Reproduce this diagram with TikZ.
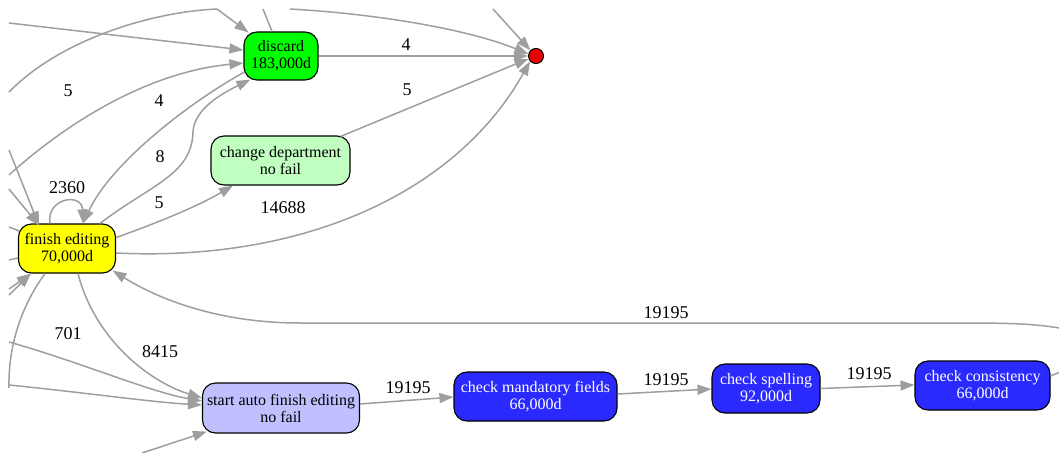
\documentclass[tikz,border=0pt]{standalone}
\usepackage{fontspec}
\setmainfont{Liberation Serif}
\usetikzlibrary{arrows.meta}
\definecolor{edgegray}{RGB}{158,158,158}
\definecolor{dgreen}{RGB}{0,255,0}
\definecolor{lgreen}{RGB}{192,255,192}
\definecolor{lblue}{RGB}{192,192,255}
\definecolor{dblue}{RGB}{42,42,255}
\definecolor{dred}{RGB}{232,0,0}
\definecolor{yel}{RGB}{255,255,0}
\begin{document}
\begin{tikzpicture}[x=1pt,y=-1pt,
  box/.style={draw=black, line width=1.1pt, rounded corners=13pt, align=center,
    inner sep=0pt, minimum height=49pt, font=\fontsize{16}{17}\selectfont},
  bluebox/.style={box, fill=dblue, text=white},
  edge/.style={draw=edgegray, line width=1.5pt, -{Triangle[length=14pt,width=10pt,fill=edgegray]}},
  plain/.style={draw=edgegray, line width=1.5pt},
  lbl/.style={font=\fontsize{18}{18}\selectfont, inner sep=0pt}]
\useasboundingbox (0,0) rectangle (1059,452);

% nodes
\node[box, fill=dgreen, minimum width=74pt, minimum height=48pt] (discard) at (281,56) {discard\\183,000d};
\node[circle, draw=black, fill=dred, line width=1pt, minimum size=15pt, inner sep=0pt] (end) at (536,56) {};
\node[box, fill=lgreen, minimum width=139pt] (chg) at (280.5,160.5) {change department\\no fail};
\node[box, fill=yel, minimum width=97pt] (fe) at (67,248.5) {finish editing\\70,000d};
\node[box, fill=lblue, minimum width=157pt, minimum height=50pt] (sa) at (281,408) {start auto finish editing\\no fail};
\node[bluebox, minimum width=163pt] (cm) at (535.5,396.5) {check mandatory fields\\66,000d};
\node[bluebox, minimum width=108pt] (cs) at (766,388.5) {check spelling\\92,000d};
\node[bluebox, minimum width=135pt] (cc) at (982.5,385.5) {check consistency\\66,000d};

% free ends
\coordinate (a1) at (9,23);
\coordinate (a2) at (9,92);
\coordinate (a2b) at (217,9);
\coordinate (a2c) at (217,9);
\coordinate (a3) at (9,175);
\coordinate (a4) at (263,9);
\coordinate (a5) at (290,9);
\coordinate (a6) at (493,9);
\coordinate (b1) at (9,150);
\coordinate (b2) at (9,189);
\coordinate (b3) at (9,227);
\coordinate (b4) at (9,260);
\coordinate (b5) at (9,289);
\coordinate (b6) at (9,295);
\coordinate (c1) at (9,388);
\coordinate (c2) at (9,342);
\coordinate (c3) at (9,385);
\coordinate (c4) at (142,453);
\coordinate (d1) at (1059,328);
\coordinate (d2) at (1059,372.5);

% edges into discard
\draw[edge] (a1) -- ([yshift=6pt]discard.west);
\draw[plain] (a2) .. controls (60,40) and (150,12) .. (a2b);
\draw[edge] (a2c) -- ([xshift=5pt,yshift=-1pt]discard.north west);
\draw[edge] (a3) .. controls (70,120) and (150,72) .. ([yshift=-7pt]discard.west);
\draw[plain] ([xshift=-9pt]discard.north) -- (a4);
% discard <-> finish editing
\draw[edge] ([xshift=1pt,yshift=-16pt]discard.west) .. controls (185,105) and (110,165) .. ([xshift=16pt]fe.north);
\draw[edge] ([xshift=33pt]fe.north) .. controls (150,185) and (192,175) .. (193,132)
   .. controls (194,108) and (225,92) .. ([xshift=7pt,yshift=1pt]discard.south west);
% self loop
\draw[edge] ([xshift=-17pt]fe.north) .. controls (46,198) and (82,192) .. ([xshift=16pt]fe.north);
% to end
\draw[edge] (discard.east) -- (end.west);
\draw[edge] (a5) .. controls (380,14) and (470,30) .. (end.165);
\draw[edge] (a6) -- (end.135);
\draw[edge] ([xshift=60pt,yshift=-1pt]chg.north) -- (end.200);
\draw[edge] ([yshift=-4.5pt]fe.east) .. controls (300,262) and (455,195) .. (end.222);
% finish editing -> change department
\draw[edge] ([yshift=11pt]fe.east) .. controls (160,222) and (200,205) .. ([xshift=-47.5pt]chg.south);
% into finish editing from left
\draw[edge] (b1) -- ([xshift=-28pt,yshift=-2pt]fe.north);
\draw[edge] (b2) -- ([xshift=-28pt,yshift=-2pt]fe.north);
\draw[plain] (b3) -- ([xshift=1.5pt,yshift=17.5pt]fe.west);
\draw[plain] (b4) -- ([yshift=-9.5pt]fe.west);
\draw[edge] (b5) -- ([xshift=-36pt]fe.south);
\draw[edge] (b6) -- ([xshift=-36pt]fe.south);
% finish editing downwards
\draw[plain] ([xshift=-22pt]fe.south) .. controls (22,305) and (8,345) .. (c1);
\draw[edge] ([xshift=11pt]fe.south) .. controls (95,340) and (150,382) .. ([yshift=10pt]sa.west);
% into start auto
\draw[edge] (c2) .. controls (80,362) and (150,392) .. ([yshift=7pt]sa.west);
\draw[edge] (c3) .. controls (80,392) and (150,402) .. ([yshift=3pt]sa.west);
\draw[edge] (c4) -- ([xshift=5pt,yshift=2pt]sa.south west);
% chain
\draw[edge] ([yshift=4pt]sa.east) -- ([yshift=-0.5pt]cm.west);
\draw[edge] ([yshift=2.5pt]cm.east) -- ([yshift=-0.5pt]cs.west);
\draw[edge] (cs.east) -- ([yshift=0.5pt]cc.west);
\draw[plain] ([yshift=9.5pt]cc.east) -- (d2);
% long back edge
\draw[edge] (d1) .. controls (1030,323) and (1000,323) .. (950,323) -- (300,323)
   .. controls (220,323) and (160,300) .. ([xshift=-3.5pt,yshift=3pt]fe.south east);

% labels
\node[lbl] (l1) at (406,45) {4};
\node[lbl] (l2) at (407,90) {5};
\node[lbl] (l3) at (68,91) {5};
\node[lbl] (l4) at (159,101) {4};
\node[lbl] (l5) at (160,157) {8};
\node[lbl] (l6) at (67,188) {2360};
\node[lbl] (l7) at (159,203) {5};
\node[lbl] (l8) at (283,208) {14688};
\node[lbl] (l9) at (666,313) {19195};
\node[lbl] (l10) at (68,334) {701};
\node[lbl] (l11) at (160,352) {8415};
\node[lbl] (l12) at (408,388) {19195};
\node[lbl] (l13) at (666,380) {19195};
\node[lbl] (l14) at (869,374) {19195};
\end{tikzpicture}
\end{document}
